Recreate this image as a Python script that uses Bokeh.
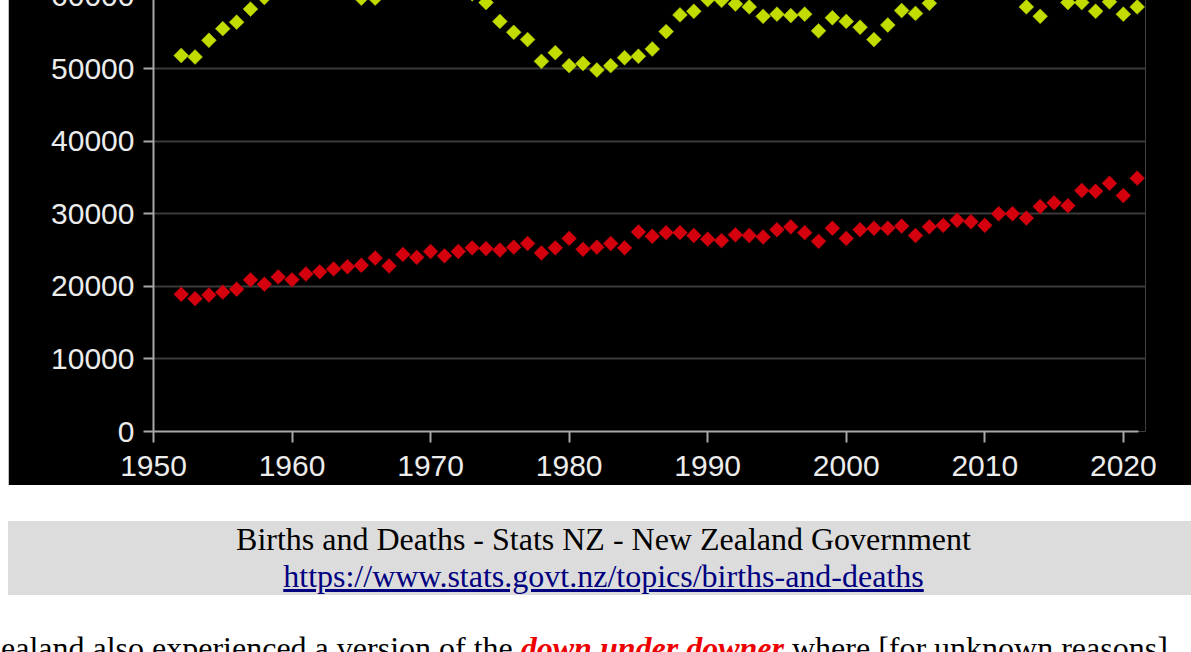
import numpy as np
from bokeh.plotting import figure
from bokeh.layouts import column
from bokeh.models import Div, Range1d, SingleIntervalTicker, NumeralTickFormatter, ColumnDataSource
from bokeh.embed import file_html
from bokeh.resources import INLINE

# ---- data ----
years = list(range(1952, 2022))

births = [51800, 51600, 53900, 55500, 56400, 58200, 59800, 61000, 62700, 65400,
          65000, 64500, 62200, 59700, 59700, 61000, 62300, 62800, 62100, 64500,
          63200, 60300, 59100, 56500, 55000, 54000, 51000, 52200, 50400, 50700,
          49800, 50400, 51500, 51700, 52700, 55100, 57400, 57900, 59500, 59400,
          58900, 58500, 57200, 57500, 57300, 57500, 55200, 57000, 56500, 55700,
          54000, 56000, 58000, 57600, 59000, 64000, 64300, 62500, 63900, 61400,
          61200, 58500, 57200, 61000, 59100, 59100, 57900, 59200, 57500, 58500]

deaths = [18900, 18300, 18800, 19200, 19600, 20900, 20300, 21300, 20900, 21700,
          22000, 22400, 22700, 22900, 23900, 22800, 24400, 24000, 24800, 24200,
          24800, 25300, 25200, 25000, 25400, 25900, 24600, 25300, 26600, 25100,
          25400, 25900, 25300, 27500, 26900, 27400, 27400, 27000, 26500, 26300,
          27100, 27000, 26800, 27800, 28200, 27400, 26200, 28000, 26600, 27800,
          28000, 28000, 28300, 27000, 28200, 28400, 29100, 28900, 28400, 30000,
          30000, 29400, 31000, 31500, 31100, 33200, 33100, 34200, 32500, 34900]

caption_title = "Births and Deaths - Stats NZ - New Zealand Government"
caption_url = "https://www.stats.govt.nz/topics/births-and-deaths"
text_before = "ealand also experienced a version of the "
text_em = "down under downer"
text_after = " where [for unknown reasons]"

src = ColumnDataSource(dict(year=years, births=births, deaths=deaths))

p = figure(width=1183, height=504,
           x_range=Range1d(1950, 2021.6), y_range=Range1d(0, 62000),
           output_backend="svg", toolbar_location=None,
           background_fill_color="black", border_fill_color="black",
           outline_line_color=None,
           min_border_left=145, min_border_right=46,
           min_border_top=0, min_border_bottom=54,
           sizing_mode="fixed",
           margin=(-19, 0, 0, 8))

p.scatter("year", "births", source=src, marker="square", size=10.5,
          angle=np.pi / 4, fill_color="#c2dc00", line_color="#b4cc00", line_width=0.5)
p.scatter("year", "deaths", source=src, marker="square", size=10.5,
          angle=np.pi / 4, fill_color="#d4000e", line_color="#c0000c", line_width=0.5)

for ax in (p.xaxis[0], p.yaxis[0]):
    ax.axis_line_color = "#a8a8a8"
    ax.axis_line_width = 2
    ax.major_tick_line_color = "#a8a8a8"
    ax.major_tick_line_width = 2
    ax.major_tick_in = 0
    ax.minor_tick_line_color = None
    ax.major_label_text_font = "Liberation Sans"
    ax.major_label_text_font_size = "30px"
    ax.major_label_text_color = "#ececec"

p.xaxis.ticker = SingleIntervalTicker(interval=10, num_minor_ticks=0)
p.xaxis.major_tick_out = 11
p.xaxis.major_label_standoff = 13
p.xaxis.bounds = (1950, 2021.07)

p.yaxis.ticker = SingleIntervalTicker(interval=10000, num_minor_ticks=0)
p.yaxis.formatter = NumeralTickFormatter(format="0")
p.yaxis.major_tick_out = 10
p.yaxis.major_label_standoff = 9

p.xgrid.visible = False
p.ygrid.grid_line_color = "#3a3a3a"
p.ygrid.grid_line_width = 2

caption = Div(text=(
    '<div style="background:#dcdcdc;width:1183px;padding-left:8px;text-align:center;'
    "font-family:'Liberation Serif',serif;font-size:32px;line-height:37px;color:#000;\">"
    f'{caption_title}<br>'
    f'<a href="{caption_url}" style="color:#000080;text-decoration:underline">{caption_url}</a>'
    '</div>'), margin=(36, 0, 0, 8))

para = Div(text=(
    '<div style="height:28px;overflow:hidden;white-space:nowrap;'
    "font-family:'Liberation Serif',serif;font-size:32px;line-height:37px;color:#000;\">"
    f'{text_before}<span style="color:#ee0000;font-weight:bold;font-style:italic;'
    f'text-decoration:underline">{text_em}</span>{text_after}</div>'),
    margin=(35, 0, -8, 1))

layout = column(p, caption, para, spacing=0)

open("out.html", "w").write(file_html(layout, INLINE))
